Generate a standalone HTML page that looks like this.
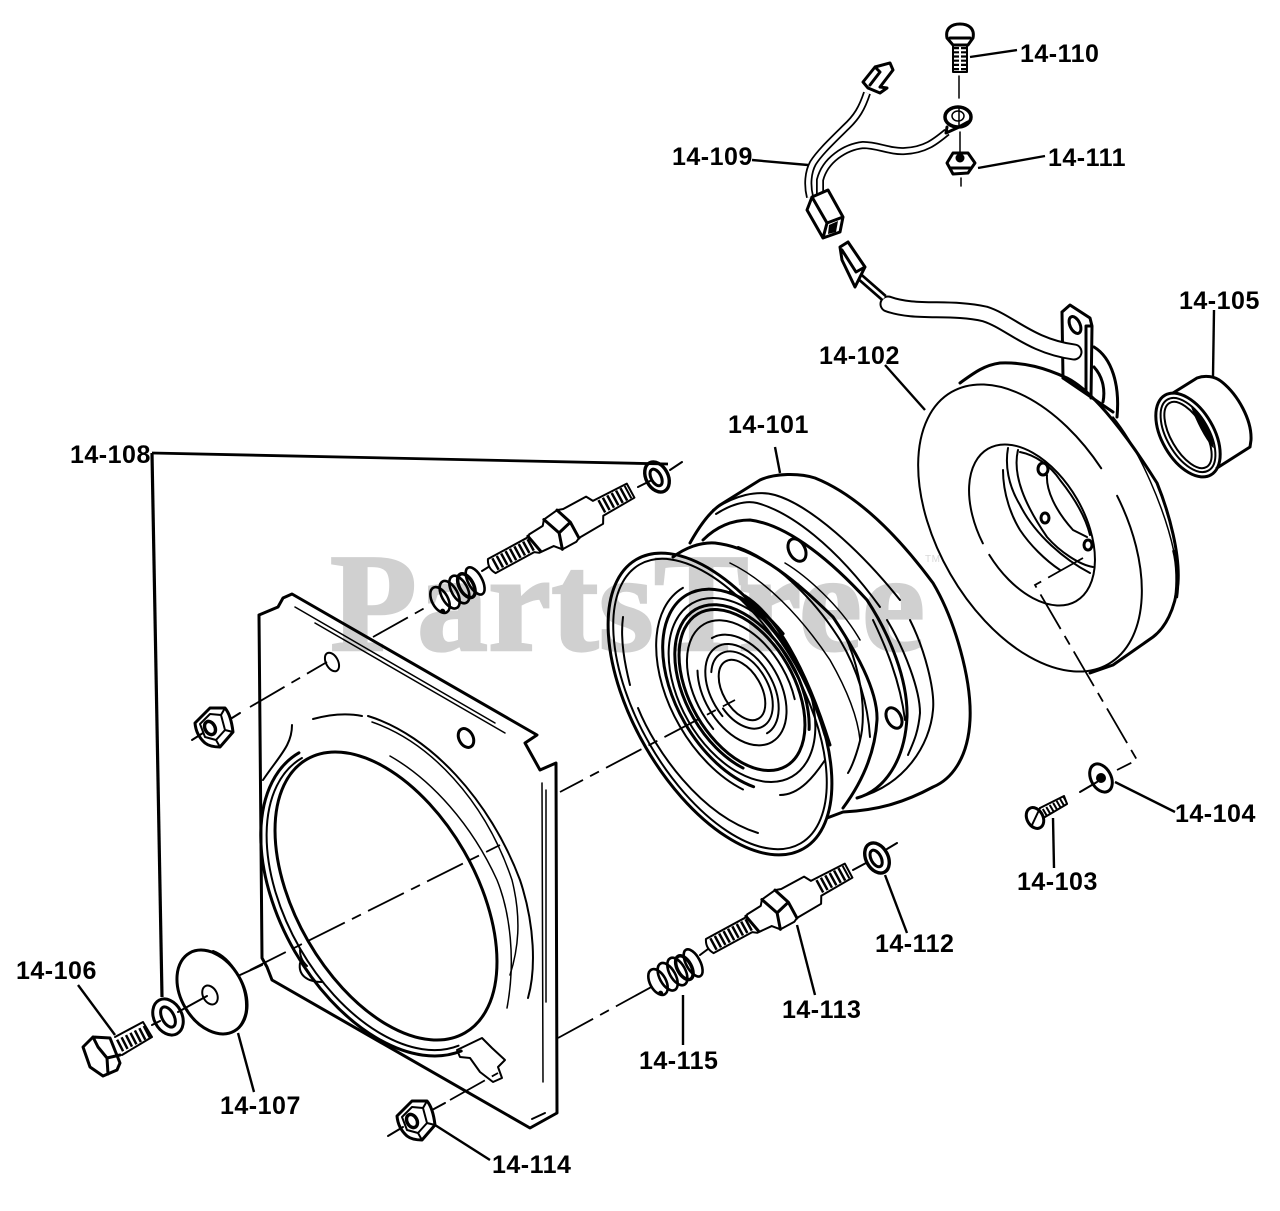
<!DOCTYPE html>
<html><head><meta charset="utf-8"><style>
html,body{margin:0;padding:0;background:#fff}
svg{display:block}
text{font-family:"Liberation Sans",sans-serif;font-weight:bold;font-size:25px;fill:#000;letter-spacing:.5px}
.l{fill:none;stroke:#000;stroke-width:2;stroke-linecap:round;stroke-linejoin:round}
.t{fill:none;stroke:#000;stroke-width:1.5;stroke-linecap:round}
.h{fill:none;stroke:#000;stroke-width:3;stroke-linecap:round;stroke-linejoin:round}
.d{fill:none;stroke:#000;stroke-width:1.8;stroke-dasharray:40 8 10 8}
.k{fill:none;stroke:#000;stroke-width:2.4}
</style></head><body>
<svg width="1280" height="1211" viewBox="0 0 1280 1211" xmlns="http://www.w3.org/2000/svg">
<defs>
<g id="stud">
<path class="l" style="fill:#fff" d="M2,-8 L48,-8 L50,-10 L66,-11 L70,-16 L86,-18 L92,-16 L118,-16 L122,-9 L160,-8 L160,8 L124,9 L120,16 L92,17 L88,19 L72,19 L66,12 L50,11 L46,8 L2,8 Q-3,0 2,-8 Z"/>
<path class="h" d="M70,-16 L77,3 L72,19 M77,3 L92,-1 L86,-18 M92,-1 L92,17"/>
<path class="h" d="M48,-9 L52,10"/>
<line x1="5" y1="0" x2="48" y2="0" stroke="#000" stroke-width="13" stroke-dasharray="2.5 2.5"/>
<line x1="126" y1="0" x2="158" y2="0" stroke="#000" stroke-width="14" stroke-dasharray="2.5 2.5"/>
</g>
<g id="spring" fill="none" stroke="#000">
<ellipse cx="0" cy="0" rx="8" ry="14" stroke-width="2.6"/>
<ellipse cx="11" cy="0" rx="8" ry="15" stroke-width="2.6"/>
<ellipse cx="22" cy="0" rx="8" ry="15" stroke-width="2.6"/>
<ellipse cx="30" cy="0" rx="7" ry="13" stroke-width="3.5"/>
<ellipse cx="40" cy="0" rx="7" ry="15" stroke-width="2.6"/>
<circle cx="-3" cy="11" r="2.5" fill="#000" stroke="none"/>
</g>
<g id="nut">
<path class="h" d="M-18,-4 L-3,-19 L12,-19 Q18,-12 20,5 L7,20 Q-3,20 -8,16 Q-17,8 -18,-4 Z"/>
<path class="l" d="M-13,-3 L-3,-13 L8,-12 L12,3 L3,13 L-8,10 Z M8,-12 L12,-19 M12,3 L20,5 M3,13 L7,20"/>
<ellipse cx="-3" cy="1" rx="5" ry="7" fill="none" stroke="#000" stroke-width="3.4" transform="rotate(-28 -3 1)"/>
</g>
<g id="washer">
<g transform="rotate(-28)">
<ellipse rx="11" ry="16" fill="none" stroke="#000" stroke-width="3.4"/>
<ellipse rx="5" ry="9" cx="-1" fill="none" stroke="#000" stroke-width="3"/>
</g>
</g>
</defs>

<text x="330" y="650" textLength="595" lengthAdjust="spacingAndGlyphs" style="font-family:'Liberation Serif',serif;font-size:140px;fill:#d0d0d0;stroke:#d0d0d0;stroke-width:2.5;letter-spacing:0">PartsTree</text>
<text x="925" y="562" style="font-size:10px;fill:#d8d8d8;font-weight:normal">TM</text>

<!-- mounting plate -->
<path class="h" d="M259,615 L278,607 L283,598 L292,594 L537,735 L525,743 L540,770 L556,763 L557,1113 L530,1128 L272,980 L267,967 L262,958 L259,615"/>
<path class="t" d="M295,607 L495,723 M315,623 L505,733"/>
<path class="l" d="M532,1119 L545,1113"/>
<g transform="translate(386,896) rotate(60)">
<ellipse rx="158" ry="90" class="h" stroke-width="3.5"/>
</g>
<g transform="translate(384,900) rotate(60)">
<ellipse rx="164" ry="97" class="l" pathLength="100" stroke-dasharray="49 51" stroke-dashoffset="-1"/>
<ellipse rx="170" ry="103" class="h" pathLength="100" stroke-dasharray="49 51" stroke-dashoffset="-1"/>
</g>
<path class="l" d="M368,716 C430,735 490,800 520,880 C535,925 536,970 528,998"/>
<path class="t" d="M372,722 C430,742 485,800 512,880 C522,920 518,950 510,975"/>
<path class="t" d="M390,756 C432,780 472,825 497,880 C510,912 516,960 507,1008"/>
<path class="l" d="M313,719 C335,713 352,714 362,716"/>
<path class="l" d="M292,725 C292,745 280,755 263,780"/>
<path class="t" d="M542,783 L543,1082 M546,790 L546,1002"/>
<ellipse cx="332" cy="662" rx="6" ry="10" transform="rotate(-28 332 662)" class="l" stroke-width="2.4"/>
<ellipse cx="466" cy="738" rx="7" ry="10" transform="rotate(-28 466 738)" class="h"/>
<path class="l" d="M300,963 C298,975 307,982 322,982 M300,950 C300,955 301,960 307,966"/>
<path class="l" d="M457,1050 L482,1038 L492,1048 L505,1060 L498,1067 L502,1078 L493,1082 L480,1072 L470,1058 L460,1057 Z"/>

<!-- pulley -->
<path class="h" d="M690,543 C700,525 710,512 720,505 L760,480 C775,473 800,473 815,478 C850,492 890,525 933,583 C955,620 972,680 970,720 C968,760 950,780 933,787 C905,802 880,810 843,812 L827,818"/>
<path class="l" d="M713,510 C735,495 757,490 775,495 C810,505 860,550 900,600"/>
<path class="l" d="M716,514 C730,505 745,500 757,503 C790,512 835,545 880,607"/>
<path class="h" d="M703,540 C715,528 730,520 750,520 C790,525 835,565 867,600 C890,635 908,680 907,717 C905,760 885,790 857,798"/>
<path class="l" d="M910,620 C925,650 935,690 933,710 C930,745 905,785 857,798"/>
<path class="l" d="M887,620 C905,650 920,690 920,713 C918,735 912,745 908,755"/>
<path class="h" d="M673,557 C685,548 700,542 715,543 C760,548 800,585 833,617 C855,650 878,690 877,720 C875,755 860,785 843,808"/>
<path class="l" d="M738,547 C775,560 815,600 840,640 C858,670 868,705 870,737"/>
<path class="t" d="M730,563 C765,580 800,615 830,660 C850,695 858,720 860,740"/>
<path class="t" d="M785,563 C805,575 840,605 860,640"/>
<path class="l" d="M843,632 C855,655 866,695 862,730 C860,745 853,765 848,773"/>
<path class="l" d="M873,620 C885,645 900,680 905,720"/>
<ellipse cx="797" cy="550" rx="8" ry="12" transform="rotate(-28 797 550)" class="h"/>
<ellipse cx="894" cy="718" rx="7" ry="11" transform="rotate(-28 894 718)" class="h"/>
<g transform="translate(720,704) rotate(60)">
<ellipse rx="167" ry="86" class="h"/>
<ellipse rx="161" ry="81" class="l"/>
</g>
<path class="l" d="M623,617 C620,640 625,665 630,685 M638,708 C655,750 700,815 758,833"/>
<g transform="translate(742,690) rotate(60)" fill="none">
<ellipse rx="33" ry="19" class="l" stroke-width="2.5"/>
<ellipse rx="42" ry="26" class="l" pathLength="100" stroke-dasharray="82 18" stroke-dashoffset="-40"/>
<ellipse rx="50" ry="31" class="l" pathLength="100" stroke-dasharray="80 20" stroke-dashoffset="-20"/>
<ellipse rx="60" ry="38" class="l" pathLength="100" stroke-dasharray="88 12" stroke-dashoffset="-50"/>
<ellipse rx="76" ry="46" class="l" pathLength="100" stroke-dasharray="64 36" stroke-dashoffset="-20"/>
<ellipse rx="88" ry="52" class="h"/>
<ellipse rx="93" ry="56" class="h" pathLength="100" stroke-dasharray="80 20" stroke-dashoffset="-10"/>
<ellipse rx="100" ry="62" class="l"/>
<ellipse rx="110" ry="66" class="h" pathLength="100" stroke-dasharray="62 38" stroke-dashoffset="-8"/>
<ellipse rx="118" ry="72" class="l" pathLength="100" stroke-dasharray="40 60" stroke-dashoffset="-10"/>
</g>
<path class="h" d="M730,592 C765,610 805,665 825,735 M745,596 C775,615 805,665 830,745"/>
<path class="l" d="M780,795 C800,795 815,775 825,760"/>

<!-- field coil -->
<path class="h" d="M960,383 C975,372 985,365 1000,363 C1025,362 1045,368 1067,378 C1095,392 1130,440 1157,483 C1170,515 1180,555 1178,583 C1175,610 1165,628 1153,637 L1113,665 L1090,673"/>
<path class="t" d="M1113,417 C1140,450 1165,510 1174,552"/>
<path d="M1174,550 C1178,565 1178,585 1176,598" fill="none" stroke="#000" stroke-width="4"/>
<g transform="translate(1030,528) rotate(60)">
<ellipse rx="157" ry="92" class="l" pathLength="100" stroke-dasharray="96 4" stroke-dashoffset="-77"/>
</g>
<g transform="translate(1032,525) rotate(60)">
<ellipse rx="88" ry="52" class="l" pathLength="100" stroke-dasharray="97 3" stroke-dashoffset="-27"/>
</g>
<path class="l" d="M1003,470 C1003,495 1012,517 1020,530 C1030,545 1045,560 1060,570"/>
<path class="l" d="M1008,448 C1005,465 1008,485 1020,505 C1035,535 1065,560 1090,573"/>
<path class="l" d="M1018,450 C1012,475 1025,505 1047,537 C1060,552 1080,565 1093,567"/>
<path class="l" d="M1047,475 C1046,490 1055,510 1073,530 L1087,537 M1020,452 C1035,455 1050,465 1060,480 C1072,495 1085,515 1090,535"/>
<ellipse cx="1043" cy="469" rx="5" ry="6" class="h" stroke-width="2.4"/>
<ellipse cx="1045" cy="518" rx="4" ry="5" class="h" stroke-width="2.4"/>
<ellipse cx="1088" cy="545" rx="4" ry="5" class="h" stroke-width="3"/>

<!-- bracket & harness -->
<path class="h" d="M1062,312 L1070,305 L1090,318 L1092,326 L1091,398 M1062,312 L1063,378 M1086,326 L1086,393 M1086,326 L1092,326"/>
<ellipse cx="1075" cy="325" rx="5" ry="9" transform="rotate(-25 1075 325)" class="h"/>
<path class="h" d="M1094,347 C1112,358 1120,385 1117,417 M1094,367 C1104,378 1105,392 1103,402"/>
<path class="h" d="M1063,378 L1113,412" stroke-width="3.5"/>
<path d="M888,304 C915,314 950,306 985,314 C1010,322 1030,346 1074,352" fill="none" stroke="#000" stroke-width="17" stroke-linecap="round"/>
<path d="M888,304 C915,314 950,306 985,314 C1010,322 1030,346 1074,352" fill="none" stroke="#fff" stroke-width="13" stroke-linecap="round"/>
<path d="M860,277 L884,298" fill="none" stroke="#000" stroke-width="8"/>
<path d="M860,277 L884,298" fill="none" stroke="#fff" stroke-width="2.5"/>
<path class="h" d="M840,247 L848,242 L865,267 L855,287 L842,260 Z M842,250 L856,272 L865,267" style="fill:#fff"/>
<path d="M867,93 C862,108 857,117 845,128 C833,140 820,152 813,163 C808,172 807,185 810,197" fill="none" stroke="#000" stroke-width="8"/>
<path d="M867,93 C862,108 857,117 845,128 C833,140 820,152 813,163 C808,172 807,185 810,197" fill="none" stroke="#fff" stroke-width="4.5"/>
<path d="M947,132 C935,142 925,150 905,151 C890,152 878,145 863,145 C845,147 825,160 820,180 L820,194" fill="none" stroke="#000" stroke-width="8"/>
<path d="M947,132 C935,142 925,150 905,151 C890,152 878,145 863,145 C845,147 825,160 820,180 L820,194" fill="none" stroke="#fff" stroke-width="4.5"/>
<path class="h" d="M807,210 L812,197 L828,190 L843,217 L840,232 L823,238 Z M812,197 L827,223 L823,238 M827,223 L843,217" style="fill:#fff"/>
<path d="M829,225 L838,221 L836,232 L828,234 Z" fill="#000"/>
<path class="h" d="M863,82 L875,67 L890,63 L893,70 L880,87 L887,88 L880,93 L868,88 Z M875,67 L880,72 L870,85" style="fill:#fff"/>
<ellipse cx="958" cy="117" rx="13" ry="10" fill="none" stroke="#000" stroke-width="3.5"/>
<ellipse cx="958" cy="116" rx="6" ry="5" fill="none" stroke="#000" stroke-width="1.5"/>
<path class="h" d="M947,127 L946,133 L957,128 L968,122"/>

<!-- top hardware -->
<path class="h" d="M947,38 C945,28 952,24 960,24 C968,24 975,28 973,38 L968,45 L953,45 Z M950,38 L970,38"/>
<path class="l" d="M953,45 L953,72 L967,72 L967,45"/>
<line x1="960" y1="47" x2="960" y2="71" stroke="#000" stroke-width="13" stroke-dasharray="2.2 2"/>
<line x1="960" y1="47" x2="960" y2="71" stroke="#fff" stroke-width="2"/>
<path class="t" d="M959,76 V98 M959,108 V125 M960,132 V155 M961,178 V186" stroke-width="1.6"/>
<path class="h" d="M947,163 L953,153 L968,153 L975,163 L968,173 L953,174 Z M951,168 L970,168"/>
<circle cx="960" cy="158" r="4.5" fill="#000"/>

<!-- bearing -->
<path class="h" d="M1173,393 L1197,378 C1205,375 1215,376 1222,382 C1238,395 1252,420 1251,440 L1250,447 L1217,468"/>
<g transform="translate(1188,435) rotate(60)">
<ellipse rx="46" ry="26" class="h"/>
<ellipse rx="41" ry="21" class="l"/>
<ellipse rx="37" ry="17" class="l"/>
</g>
<path d="M1192,408 C1196,420 1205,438 1213,447 C1212,432 1204,416 1192,408 Z" fill="#000" stroke="#000" stroke-width="1"/>

<!-- axes -->
<path class="d" d="M250,970 L500,845"/>
<path class="d" d="M560,792 L735,700" stroke-dashoffset="14"/>
<path class="d" d="M373,637 L430,605"/>
<path class="l" d="M682,462 L670,470 M638,487 L650,481 M482,571 L490,566"/>
<path class="d" d="M250,707 L327,662"/>
<path class="l" d="M192,740 L203,733 M232,718 L240,713"/>
<path class="d" d="M558,1038 L655,985"/>
<path class="l" d="M897,843 L887,849 M853,870 L866,863 M700,955 L708,949"/>
<path class="l" d="M388,1136 L403,1127 M432,1110 L445,1103"/>
<path class="d" d="M450,1100 L498,1073"/>
<path class="d" d="M1083,558 L1035,585 L1137,760 L1117,770"/>
<path class="l" d="M1080,792 L1097,782"/>

<!-- studs & springs -->
<use href="#stud" transform="translate(490,567) rotate(-28.5)"/>
<use href="#spring" transform="translate(440,600) rotate(-28.5)"/>
<use href="#washer" transform="translate(657,477)"/>
<use href="#stud" transform="translate(708,947) rotate(-28.5)"/>
<use href="#spring" transform="translate(658,982) rotate(-28.5)"/>
<use href="#washer" transform="translate(877,858)"/>
<use href="#nut" transform="translate(213,727)"/>
<use href="#nut" transform="translate(415,1120)"/>

<!-- left hardware -->
<path class="h" d="M83,1047 L93,1037 L110,1038 L120,1063 L117,1070 L103,1076 L90,1067 Z M93,1037 L98,1047 L107,1058 L120,1055 M107,1058 L108,1074 M110,1038 L118,1058"/>
<path class="l" d="M115,1037 L143,1022 L152,1037 L122,1055"/>
<line x1="119" y1="1046" x2="150" y2="1030" stroke="#000" stroke-width="13" stroke-dasharray="2.5 2.5"/>
<g transform="translate(168,1017) rotate(-28)">
<ellipse rx="14" ry="19" class="h"/>
<ellipse rx="6" ry="11" fill="none" stroke="#000" stroke-width="3"/>
</g>
<g transform="translate(212,992) rotate(60)">
<ellipse rx="45" ry="31" class="h"/>
</g>
<path class="l" d="M213,951 C232,958 247,985 246,1008 C246,1015 242,1025 236,1030"/>
<ellipse cx="210" cy="995" rx="7" ry="10" transform="rotate(-28 210 995)" class="l" stroke-width="2.6"/>
<path class="l" d="M152,1025 L160,1021 M178,1012 L207,996"/>
<path class="l" d="M240,975 L262,965"/>

<!-- small screw + washer -->
<ellipse cx="1035" cy="818" rx="8" ry="11" transform="rotate(-28 1035 818)" class="h"/>
<path class="l" d="M1040,808 L1032,825"/>
<path class="l" d="M1040,808 L1064,796 L1067,804 L1045,817"/>
<line x1="1044" y1="813" x2="1066" y2="800" stroke="#000" stroke-width="8" stroke-dasharray="2 2"/>
<g transform="translate(1101,778) rotate(-28)">
<ellipse rx="10" ry="15" class="h"/>
</g>
<circle cx="1101" cy="778" r="5" fill="#000"/>

<!-- leaders -->
<g class="k">
<path d="M970,57 L1017,50"/>
<path d="M978,168 L1045,156"/>
<path d="M752,160 L808,165"/>
<path d="M1214,310 L1213,376"/>
<path d="M885,365 L925,410"/>
<path d="M775,447 L780,473"/>
<path d="M152,453 L668,464" stroke-width="2.8"/>
<path d="M152,453 L162,997" stroke-width="3.2"/>
<path d="M1115,782 L1175,812"/>
<path d="M1053,818 L1054,868"/>
<path d="M885,875 L907,933"/>
<path d="M797,925 L815,995"/>
<path d="M683,995 L683,1045"/>
<path d="M78,985 L115,1035"/>
<path d="M238,1033 L254,1092"/>
<path d="M435,1125 L490,1160"/>
</g>

<!-- labels -->
<text x="1020" y="62">14-110</text>
<text x="672" y="165">14-109</text>
<text x="1048" y="166">14-111</text>
<text x="1179" y="309">14-105</text>
<text x="819" y="364">14-102</text>
<text x="728" y="433">14-101</text>
<text x="70" y="463">14-108</text>
<text x="1175" y="822">14-104</text>
<text x="1017" y="890">14-103</text>
<text x="875" y="952">14-112</text>
<text x="782" y="1018">14-113</text>
<text x="639" y="1069">14-115</text>
<text x="16" y="979">14-106</text>
<text x="220" y="1114">14-107</text>
<text x="492" y="1173">14-114</text>
</svg>
</body></html>
